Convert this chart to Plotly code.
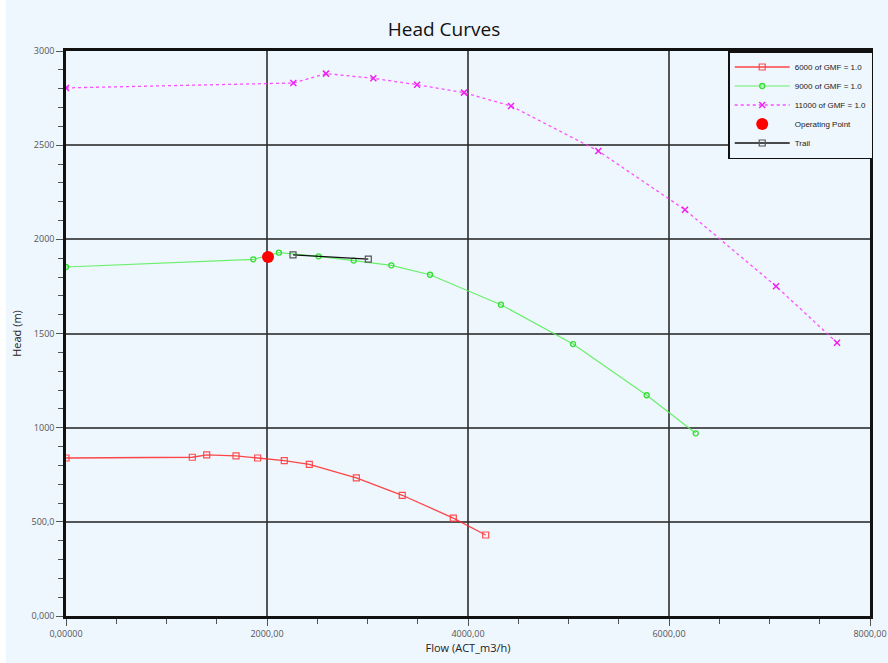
import plotly.graph_objects as go

# Pump head curves at three speeds (flow in m3/h, head in m)
flow_6000 = [0, 1257, 1400, 1692, 1907, 2172, 2421, 2889, 3346, 3854, 4176]
head_6000 = [839, 843, 856, 850, 839, 825, 805, 733, 641, 520, 430]

flow_9000 = [0, 1864, 2119, 2514, 2863, 3237, 3622, 4328, 5045, 5778, 6266]
head_9000 = [1853, 1894, 1929, 1910, 1887, 1862, 1812, 1653, 1444, 1172, 970]

flow_11000 = [0, 2262, 2587, 3058, 3493, 3960, 4428, 5297, 6159, 7065, 7672]
head_11000 = [2804, 2830, 2880, 2855, 2821, 2779, 2708, 2469, 2157, 1751, 1451]

op_flow = [2010]
op_head = [1906]

trail_flow = [2259, 3008]
trail_head = [1918, 1895]

x_tickvals = [0, 2000, 4000, 6000, 8000]
x_ticktext = ["0,00000", "2000,00", "4000,00", "6000,00", "8000,00"]
y_tickvals = [0, 500, 1000, 1500, 2000, 2500, 3000]
y_ticktext = ["0,000", "500,0", "1000", "1500", "2000", "2500", "3000"]

BG = "#EEF6FE"

fig = go.Figure()

fig.add_trace(go.Scatter(
    x=flow_6000, y=head_6000, mode="lines+markers", name="6000 of GMF = 1.0",
    line=dict(color="rgba(255,40,40,0.85)", width=1.3),
    marker=dict(symbol="square-open", size=6, color="rgba(255,60,60,0.9)", line=dict(width=1.2)),
))
fig.add_trace(go.Scatter(
    x=flow_9000, y=head_9000, mode="lines+markers", name="9000 of GMF = 1.0",
    line=dict(color="rgba(90,240,90,0.9)", width=1.2),
    marker=dict(symbol="circle-open", size=5, color="#33DD33", line=dict(width=1.3)),
))
fig.add_trace(go.Scatter(
    x=flow_11000, y=head_11000, mode="lines+markers", name="11000 of GMF = 1.0",
    line=dict(color="rgba(255,60,255,0.9)", width=1.3, dash="dot"),
    marker=dict(symbol="x-thin-open", size=6, color="#EE22EE", line=dict(width=1.5, color="#EE22EE")),
))
fig.add_trace(go.Scatter(
    x=op_flow, y=op_head, mode="markers", name="Operating Point",
    marker=dict(symbol="circle", size=12, color="#FF0000"),
))
fig.add_trace(go.Scatter(
    x=trail_flow, y=trail_head, mode="lines+markers", name="Trail",
    line=dict(color="#111111", width=1.3),
    marker=dict(symbol="square-open", size=6, color="#555555", line=dict(width=1.2)),
))

axis_common = dict(
    automargin=False,
    showline=True, linecolor="#111111", linewidth=2.5, mirror=True,
    showgrid=True, gridcolor="rgba(45,45,45,0.8)", gridwidth=2,
    zeroline=False,
    ticks="outside", ticklen=7, tickcolor="#555555", tickwidth=1.2,
    tickfont=dict(family="Open Sans, Arial", size=9, color="#555555"),
)

fig.update_xaxes(
    range=[0, 8000], tickvals=x_tickvals, ticktext=x_ticktext,
    minor=dict(dtick=500, ticks="outside", ticklen=5, tickcolor="#555555", tickwidth=1.2, showgrid=False),
    title=dict(text="Flow (ACT_m3/h)", font=dict(family="Open Sans, Arial", size=11, color="#222222"), standoff=4),
    **axis_common,
)
fig.update_yaxes(
    range=[0, 3000], tickvals=y_tickvals, ticktext=y_ticktext,
    minor=dict(dtick=100, ticks="outside", ticklen=5, tickcolor="#555555", tickwidth=1.2, showgrid=False),
    title=dict(text="Head (m)", font=dict(family="Open Sans, Arial", size=11, color="#222222"), standoff=8),
    **axis_common,
)

# light panel behind the chart, leaving a thin white edge
fig.add_shape(
    type="rect", xref="paper", yref="paper",
    x0=-60 / 804, x1=1 + 30 / 804, y0=-60 / 565, y1=1 + 51 / 565,
    fillcolor=BG, line=dict(width=0), layer="below",
)

fig.update_layout(
    width=888, height=663,
    margin=dict(l=66, r=18, t=51, b=47),
    paper_bgcolor="white", plot_bgcolor=BG,
    title=dict(text="Head Curves", x=0.5, xanchor="center", y=0.955, yanchor="middle",
               font=dict(family="Open Sans, Arial", size=19, color="#111111")),
    legend=dict(
        x=1.004, y=1.0, xanchor="right", yanchor="top",
        bgcolor=BG, bordercolor="#111111", borderwidth=1.5,
        font=dict(family="Liberation Sans, Arial", size=8, color="#222222"),
        itemwidth=55, tracegroupgap=0,
    ),
    showlegend=True,
)

fig.write_html("out.html")
